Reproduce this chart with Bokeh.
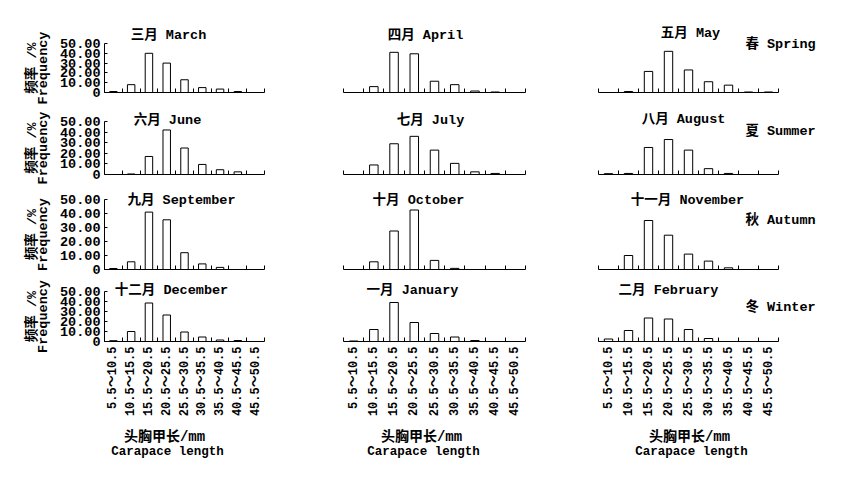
import math
from bokeh.plotting import figure
from bokeh.models import Range1d, FixedTicker, Label, LinearAxis
from bokeh.layouts import column, row
from bokeh.embed import file_html
from bokeh.resources import INLINE

# ---------------- data ----------------
categories = ["5.5～10.5", "10.5～15.5", "15.5～20.5", "20.5～25.5", "25.5～30.5",
              "30.5～35.5", "35.5～40.5", "40.5～45.5", "45.5～50.5"]

month_titles = ["三月 March", "四月 April", "五月 May",
                "六月 June", "七月 July", "八月 August",
                "九月 September", "十月 October", "十一月 November",
                "十二月 December", "一月 January", "二月 February"]
season_titles = ["春 Spring", "夏 Summer", "秋 Autumn", "冬 Winter"]

march = [1.0, 8.0, 40.0, 30.0, 13.0, 5.0, 3.5, 1.0, 0.0]
april = [0.0, 6.0, 41.0, 39.5, 11.5, 8.0, 1.5, 0.5, 0.0]
may = [0.0, 1.0, 21.5, 42.0, 23.0, 11.0, 7.5, 0.5, 0.5]
june = [0.0, 0.5, 17.0, 42.0, 25.0, 9.5, 4.5, 2.5, 0.0]
july = [0.0, 9.0, 29.0, 36.0, 23.0, 10.5, 2.5, 1.0, 0.0]
august = [0.8, 1.0, 25.5, 33.0, 23.0, 5.5, 1.0, 0.0, 0.0]
september = [0.7, 5.5, 41.0, 35.5, 12.0, 4.0, 1.5, 0.0, 0.0]
october = [0.0, 5.5, 27.5, 42.5, 6.5, 0.8, 0.0, 0.0, 0.0]
november = [0.0, 10.0, 35.0, 24.5, 11.0, 6.0, 1.2, 0.0, 0.0]
december = [0.8, 10.0, 38.5, 26.5, 9.5, 4.5, 1.5, 1.0, 0.0]
january = [0.5, 12.0, 39.0, 19.0, 8.0, 4.5, 1.0, 0.0, 0.0]
february = [2.5, 11.0, 23.5, 22.5, 12.0, 3.0, 0.0, 0.0, 0.0]

series = [march, april, may, june, july, august,
          september, october, november, december, january, february]

y_ticks = [0, 10, 20, 30, 40, 50]
y_tick_labels = ["0", "10.00", "20.00", "30.00", "40.00", "50.00"]
y_max = 50
y_title_cn = "频率 /%"
y_title_en = "Frequency"
x_title_cn = "头胸甲长/mm"
x_title_en = "Carapace length"

# ---------------- layout / style (page pixels) ----------------
FONT = "Liberation Mono, Noto Sans CJK SC"
WEIGHT = "bold"
COL_EDGES = [0, 290, 560, 850]          # figure left/right edges
ROW_EDGES = [0, 105, 186, 278, 476]     # figure top/bottom edges
AX_X = [(104, 264), (343, 525), (598, 778)]   # page x of category 0 and 9 boundaries
AX_Y = [(92, 43), (174, 121), (269, 199), (341, 291)]  # page y of value 0 and value 50
TITLE_POS = [(168, 35), (425, 35), (690, 33),
             (167, 120), (430, 120), (683, 119),
             (181, 200), (418, 200), (687, 200),
             (171, 290), (412, 290), (668, 290)]
SEASON_POS = [(780, 44), (780, 131), (780, 220), (780, 307)]
XT_CN_POS = [(164, 436), (421, 436), (689, 436)]
XT_EN_POS = [(167, 451), (423, 451), (691, 451)]
YT_X = (32, 43)
TXT = "13.5px"


def add_text(p, r, c, px, py, text, size, angle=0.0):
    p.add_layout(Label(x=px - COL_EDGES[c], y=ROW_EDGES[r + 1] - py,
                       x_units="screen", y_units="screen", text=text,
                       text_font=FONT, text_font_size=size, text_color="black",
                       text_font_style=WEIGHT,
                       text_align="center", text_baseline="middle", angle=angle))


def make_panel(r, c, values):
    n = len(categories)
    fl, fr = COL_EDGES[c], COL_EDGES[c + 1]
    ft, fb = ROW_EDGES[r], ROW_EDGES[r + 1]
    x0p, x9p = AX_X[c]
    sx = (x9p - x0p) / n
    y0p, y50p = AX_Y[r]
    sy = (y0p - y50p) / y_max
    p = figure(width=fr - fl, height=fb - ft,
               x_range=Range1d((fl - x0p) / sx, (fr - x0p) / sx),
               y_range=Range1d((y0p - fb) / sy, (y0p - ft) / sy),
               output_backend="svg", toolbar_location=None,
               x_axis_location=None, y_axis_location=None,
               min_border=0, min_border_left=0, min_border_right=0,
               min_border_top=0, min_border_bottom=0)
    p.outline_line_color = None
    p.xgrid.visible = False
    p.ygrid.visible = False
    centers = [i + 0.5 for i in range(n)]
    p.vbar(x=centers, top=values, bottom=0, width=0.42,
           fill_color="white", line_color="black", line_width=1)

    bottom_row = (r == 3)
    xa = LinearAxis(fixed_location=0, bounds=(0, n),
                    ticker=FixedTicker(ticks=centers if bottom_row else [],
                                       minor_ticks=list(range(n + 1))))
    xa.axis_line_color = "black"
    xa.axis_line_width = 1
    xa.major_tick_in = 0
    xa.major_tick_out = 0
    xa.minor_tick_in = 4
    xa.minor_tick_out = 0
    xa.minor_tick_line_color = "black"
    if bottom_row:
        xa.major_label_overrides = {x: lab for x, lab in zip(centers, categories)}
        xa.major_label_orientation = math.pi / 2
        xa.major_label_standoff = 5
        xa.major_label_text_font = FONT
        xa.major_label_text_font_size = "12px"
        xa.major_label_text_font_style = WEIGHT
        xa.major_label_text_color = "black"
    else:
        xa.major_label_text_font_size = "0px"
    p.add_layout(xa, "below")

    if c == 0:
        ya = LinearAxis(fixed_location=0, bounds=(0, y_max),
                        ticker=FixedTicker(ticks=y_ticks))
        ya.major_label_overrides = {t: lab for t, lab in zip(y_ticks, y_tick_labels)}
        ya.axis_line_color = "black"
        ya.major_tick_in = 3
        ya.major_tick_out = 0
        ya.minor_tick_in = 0
        ya.minor_tick_out = 0
        ya.major_label_standoff = 4
        ya.major_label_text_font = FONT
        ya.major_label_text_font_size = TXT
        ya.major_label_text_font_style = WEIGHT
        ya.major_label_text_color = "black"
        p.add_layout(ya, "left")
        yc = (y0p + y50p) / 2
        add_text(p, r, c, YT_X[0], yc, y_title_cn, TXT, math.pi / 2)
        add_text(p, r, c, YT_X[1], yc, y_title_en, TXT, math.pi / 2)

    i = r * 3 + c
    tx, ty = TITLE_POS[i]
    add_text(p, r, c, tx, ty, month_titles[i], TXT)
    if c == 2:
        px, py = SEASON_POS[r]
        add_text(p, r, c, px, py, season_titles[r], TXT)
    if bottom_row:
        add_text(p, r, c, XT_CN_POS[c][0], XT_CN_POS[c][1], x_title_cn, "14px")
        add_text(p, r, c, XT_EN_POS[c][0], XT_EN_POS[c][1], x_title_en, "12.5px")
    return p


rows = []
for r in range(4):
    rows.append(row(*[make_panel(r, c, series[r * 3 + c]) for c in range(3)]))
layout = column(*rows)

open("out.html", "w").write(file_html(layout, INLINE))
